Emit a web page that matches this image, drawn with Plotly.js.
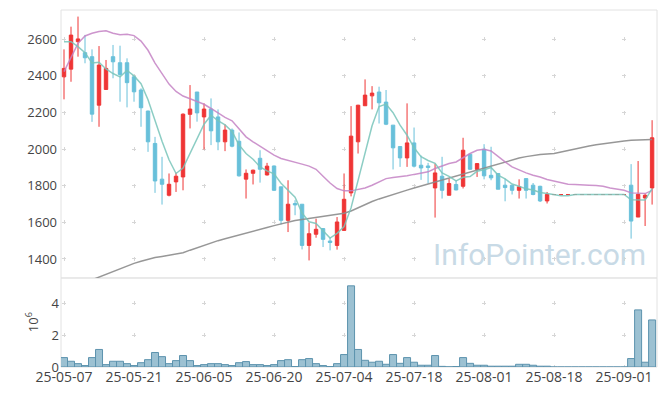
<!DOCTYPE html>
<html><head><meta charset="utf-8">
<script src="https://cdn.plot.ly/plotly-3.0.1.min.js"></script>
<style>html,body{margin:0;padding:0;background:#fff}#chart{width:665px;height:396px}</style>
</head><body><div id="chart"></div>
<script>
const dates = ["25-05-07","25-05-08","25-05-09","25-05-12","25-05-13","25-05-14","25-05-15","25-05-16","25-05-19","25-05-20",
"25-05-21","25-05-22","25-05-23","25-05-26","25-05-27","25-05-28","25-05-29","25-05-30","25-06-02","25-06-04",
"25-06-05","25-06-09","25-06-10","25-06-11","25-06-12","25-06-13","25-06-16","25-06-17","25-06-18","25-06-19",
"25-06-20","25-06-23","25-06-24","25-06-25","25-06-26","25-06-27","25-06-30","25-07-01","25-07-02","25-07-03",
"25-07-04","25-07-07","25-07-08","25-07-09","25-07-10","25-07-11","25-07-14","25-07-15","25-07-16","25-07-17",
"25-07-18","25-07-21","25-07-22","25-07-23","25-07-24","25-07-25","25-07-28","25-07-29","25-07-30","25-07-31",
"25-08-01","25-08-04","25-08-05","25-08-06","25-08-07","25-08-08","25-08-11","25-08-12","25-08-13","25-08-14",
"25-08-18","25-08-19","25-08-20","25-08-21","25-08-22","25-08-25","25-08-26","25-08-27","25-08-28","25-08-29",
"25-09-01","25-09-02","25-09-03","25-09-04","25-09-05"];

const openP = [2395,2437,2587,2527,2505,2240,2326,2505,2472,2472,
2395,2323,2208,2031,1836,1748,1821,1848,2190,2312,
2176,2219,2176,2040,2104,2043,1836,1868,1950,1859,
1908,1794,1611,1703,1699,1474,1535,1566,1498,1474,
1556,1761,2040,2237,2291,2312,2257,2131,2014,1952,
2034,1912,1908,1788,1852,1748,1807,1797,1972,1889,
1999,1857,1867,1803,1803,1775,1839,1803,1797,1717,
1752,1752,1752,1752,1752,1752,1752,1752,1752,1752,
1752,1803,1629,1733,1788];
const highP = [2545,2669,2724,2624,2545,2563,2487,2569,2565,2496,
2399,2332,2210,2067,1958,1867,1872,2195,2350,2312,
2250,2277,2217,2135,2113,2091,1889,1888,1994,1925,
1910,1794,1830,1721,1699,1599,1620,1568,1520,1629,
1867,2235,2242,2381,2344,2341,2323,2131,2016,2250,
2118,1965,1925,1921,1958,1839,1830,2062,1975,1923,
2027,2013,1867,1839,1805,1835,1839,1815,1800,1766,
1752,1752,1752,1752,1752,1752,1752,1752,1752,1752,
1752,1918,1935,1757,2158];
const lowP = [2272,2368,2505,2469,2149,2122,2323,2387,2259,2228,
2259,2122,1985,1761,1697,1742,1766,1775,2113,2150,
1998,2022,1994,1989,2010,1850,1730,1807,1817,1856,
1772,1589,1547,1639,1452,1392,1516,1465,1447,1451,
1556,1742,1976,2237,2217,2140,2131,1889,1903,1903,
1900,1832,1812,1626,1730,1748,1775,1785,1887,1848,
1835,1830,1781,1715,1752,1730,1730,1748,1711,1703,
1752,1752,1752,1752,1752,1752,1752,1752,1752,1752,
1752,1511,1629,1580,1697];
const closeP = [2441,2623,2602,2499,2191,2459,2441,2477,2408,2363,
2313,2226,2040,1826,1808,1808,1852,2191,2219,2198,
2219,2100,2040,2104,2016,1854,1868,1885,1890,1907,
1775,1611,1699,1695,1474,1538,1562,1507,1490,1602,
1726,2071,2240,2295,2306,2253,2136,2007,1952,2034,
1907,1897,1900,1870,1775,1812,1777,1994,1890,1921,
1854,1843,1781,1790,1775,1794,1775,1752,1717,1752,
1752,1752,1752,1752,1752,1752,1752,1752,1752,1752,
1752,1607,1753,1748,2062];
const volumeM = [0.59,0.36,0.21,0.09,0.59,1.10,0.15,0.36,0.36,0.21,
0.09,0.27,0.46,0.91,0.65,0.21,0.40,0.72,0.40,0.09,
0.15,0.21,0.21,0.15,0.09,0.27,0.34,0.15,0.15,0.09,
0.15,0.40,0.46,0.03,0.46,0.53,0.21,0.09,0.03,0.21,
0.78,5.09,1.10,0.42,0.30,0.36,0.17,0.78,0.23,0.59,
0.30,0.11,0.11,0.72,0.04,0.01,0.03,0.59,0.23,0.11,
0.11,0.05,0.05,0.05,0.05,0.17,0.17,0.11,0.05,0.05,
0,0,0,0,0,0,0,0,0,0,
0,0.53,3.58,0.30,2.95];
const ma5 = [2587,2587,2560,2527,2471,2475,2438,2413,2395,2430,
2400,2357,2270,2154,2043,1942,1867,1897,1976,2054,
2136,2185,2155,2132,2096,2023,1976,1945,1903,1881,
1865,1814,1776,1737,1651,1603,1594,1555,1514,1540,
1577,1679,1826,1987,2128,2233,2246,2199,2131,2076,
2007,1959,1938,1922,1870,1851,1827,1846,1850,1879,
1887,1900,1858,1838,1809,1797,1783,1777,1763,1758,
1750,1745,1745,1752,1752,1752,1752,1752,1752,1752,
1752,1723,1723,1722,1784];
const ma20 = [2423,2505,2578,2618,2633,2642,2647,2633,2625,2627,
2620,2590,2540,2470,2410,2355,2315,2290,2275,2262,
2245,2222,2195,2173,2155,2113,2067,2040,2016,1994,
1967,1949,1940,1930,1918,1907,1890,1852,1815,1785,
1772,1772,1779,1788,1803,1821,1839,1845,1848,1854,
1862,1867,1876,1894,1908,1921,1930,1954,1976,1994,
1999,1990,1958,1930,1903,1885,1870,1857,1848,1834,
1825,1815,1808,1807,1803,1803,1801,1797,1788,1781,
1775,1761,1757,1757,1775];
const ma120 = [null,null,null,1271,1286,1300,1318,1334,1349,1363,
1376,1388,1399,1408,1414,1420,1426,1434,1448,1462,
1476,1489,1500,1510,1521,1531,1542,1552,1562,1572,
1582,1592,1601,1610,1616,1622,1627,1632,1637,1643,
1650,1662,1680,1698,1714,1728,1741,1753,1764,1776,
1788,1799,1810,1821,1832,1842,1852,1862,1873,1885,
1897,1909,1921,1932,1942,1951,1959,1966,1970,1973,
1976,1984,1993,2002,2010,2017,2024,2030,2036,2041,
2045,2048,2050,2052,2053];

const tickLabels = ["25-05-07","25-05-21","25-06-05","25-06-20","25-07-04","25-07-18","25-08-01","25-08-18","25-09-01"];
const priceTicks = [1400,1600,1800,2000,2200,2400,2600];
const volumeTicks = [0,2,4];

const RED = '#ef3535', BLUE = '#68c0da';
const traces = [
  {type:'scatter', mode:'lines', x:dates, y:ma120, xaxis:'x', yaxis:'y',
   line:{color:'rgba(140,140,140,0.9)', width:1.5}, hoverinfo:'skip'},
  {type:'scatter', mode:'lines', x:dates, y:ma20, xaxis:'x', yaxis:'y',
   line:{color:'rgba(196,130,196,0.85)', width:1.5}, hoverinfo:'skip'},
  {type:'candlestick', x:dates, open:openP, high:highP, low:lowP, close:closeP, xaxis:'x', yaxis:'y',
   increasing:{line:{color:RED, width:1}, fillcolor:RED},
   decreasing:{line:{color:BLUE, width:1}, fillcolor:BLUE}},
  {type:'scatter', mode:'lines', x:dates, y:ma5, xaxis:'x', yaxis:'y',
   line:{color:'rgba(120,196,186,0.85)', width:1.5}, hoverinfo:'skip'},
  {type:'bar', x:dates, y:volumeM, xaxis:'x2', yaxis:'y2',
   marker:{color:'rgba(145,186,205,0.9)', line:{color:'#5d93ae', width:1}}}
];

const xr = [-0.43, 84.7];
const font = {family:'"Open Sans", "Noto Sans", sans-serif', size:13, color:'#444'};
const layout = {
  width:665, height:396, showlegend:false,
  margin:{l:61, r:8, t:10, b:29},
  paper_bgcolor:'#fff', plot_bgcolor:'#fff',
  font:font, bargap:0,
  xaxis:{type:'category', domain:[0,1], anchor:'y', matches:'x2', range:xr,
    showticklabels:false, tickvals:tickLabels, showgrid:true, gridcolor:'#d6d6d6', gridwidth:1,
    griddash:'0px,27.3px,4px,5.3px', rangeslider:{visible:false}, showline:false, zeroline:false, fixedrange:true},
  xaxis2:{type:'category', domain:[0,1], anchor:'y2', range:xr,
    tickvals:tickLabels, ticktext:tickLabels, showgrid:true, gridcolor:'#d6d6d6', gridwidth:1,
    griddash:'0px,23.2px,4px,4.7px', tickfont:{size:14, color:'#444'}, tickangle:0,
    rangeslider:{visible:false}, showline:false, zeroline:false},
  yaxis:{domain:[0.2493,1], anchor:'x', range:[1296,2760], tickvals:priceTicks,
    showgrid:true, gridcolor:'#d6d6d6', griddash:'0px,1px,4px,65px', zeroline:false, showline:false,
    ticklabelstandoff:3, tickfont:{size:13, color:'#444'}},
  yaxis2:{domain:[0,0.2493], anchor:'x2', range:[0,5.58], tickvals:volumeTicks,
    showgrid:true, gridcolor:'#d6d6d6', griddash:'0px,1px,4px,65px', zeroline:false, showline:false,
    ticklabelstandoff:1, tickfont:{size:13, color:'#444'}},
  shapes:[
    {type:'rect', xref:'x domain', yref:'y domain', x0:0, x1:1, y0:0, y1:1, line:{color:'#e2e2e2', width:1}, layer:'below'},
    {type:'rect', xref:'x2 domain', yref:'y2 domain', x0:0, x1:1, y0:0, y1:1, line:{color:'#e2e2e2', width:1}, layer:'below'}
  ],
  annotations:[
    {text:'InfoPointer.com', xref:'paper', yref:'paper', x:0.985, y:0.315, xanchor:'right', yanchor:'middle',
     showarrow:false, font:{family:'Roboto, "Open Sans", sans-serif', size:30, color:'#c8dae6'}},
    {text:'10<sup>6</sup>', xref:'paper', yref:'paper', x:-0.049, y:0.125, xanchor:'center', yanchor:'middle',
     textangle:-90, showarrow:false, font:{size:13, color:'#444'}}
  ]
};
Plotly.newPlot('chart', traces, layout, {displayModeBar:false, staticPlot:true});
</script>
</body></html>
